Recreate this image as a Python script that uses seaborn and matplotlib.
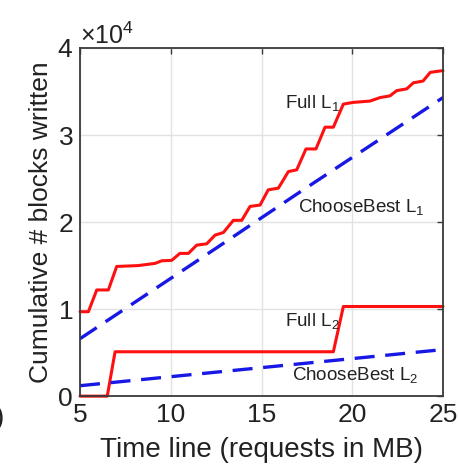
"""
Cumulative blocks written over time: Full vs ChooseBest for L1 and L2
"""

import numpy as np
import matplotlib.pyplot as plt
import matplotlib.ticker as mticker
import seaborn as sns

# Full L1 (staircase), x in MB, y in blocks
full_l1_t = [5, 5.46, 5.92, 6.56, 7.02, 8.2, 9.13, 9.5, 10.05, 10.5, 10.97, 11.43,
             11.98, 12.44, 12.9, 13.45, 13.91, 14.37, 14.92, 15.37, 15.93, 16.48,
             16.94, 17.45, 18.0, 18.5, 18.96, 19.51, 20.06, 20.98, 21.53, 22.08,
             22.45, 23.0, 23.37, 23.9, 24.3, 25]
full_l1_y = [9700, 9700, 12200, 12200, 14900, 15000, 15250, 15550, 15600, 16400,
             16400, 17350, 17500, 18500, 18800, 20200, 20200, 21800, 21950, 23700,
             23900, 25800, 26000, 28400, 28400, 30900, 30900, 33550, 33750, 33900,
             34300, 34500, 35100, 35300, 36000, 36200, 37200, 37400]

# ChooseBest L1 (dashed, nearly straight)
best_l1_t = [5, 12.07, 17.08, 25]
best_l1_y = [6600, 16400, 23400, 34300]

# Full L2
full_l2_t = [5, 6.5, 6.93, 18.96, 19.51, 25]
full_l2_y = [0, 0, 5100, 5100, 10300, 10300]

# ChooseBest L2
best_l2_t = [5, 25]
best_l2_y = [1200, 5350]

sns.set_theme(style="whitegrid")
plt.rcParams["font.family"] = ["Liberation Sans", "DejaVu Sans"]
plt.rcParams["mathtext.fontset"] = "custom"
plt.rcParams["mathtext.rm"] = "Liberation Sans"
plt.rcParams["mathtext.default"] = "regular"

fig = plt.figure(figsize=(4.6, 4.75), dpi=100)
ax = fig.add_axes([0.174, 0.166, 0.789, 0.733])

red = "#ff1010"
blue = "#1818e6"
dash = (0, (6.0, 3.2))

sns.lineplot(x=full_l1_t, y=full_l1_y, color=red, lw=2.2, ax=ax, clip_on=False)
sns.lineplot(x=best_l1_t, y=best_l1_y, color=blue, lw=2.4, linestyle=dash, ax=ax)
sns.lineplot(x=full_l2_t, y=full_l2_y, color=red, lw=2.2, ax=ax, clip_on=False)
sns.lineplot(x=best_l2_t, y=best_l2_y, color=blue, lw=2.4, linestyle=dash, ax=ax)

ax.set_xlim(5, 25)
ax.set_ylim(0, 40000)
ax.set_xticks([5, 10, 15, 20, 25])
ax.set_yticks([0, 10000, 20000, 30000, 40000])

fmt = mticker.ScalarFormatter(useMathText=True)
fmt.set_powerlimits((0, 0))
ax.yaxis.set_major_formatter(fmt)
ax.yaxis.get_offset_text().set_fontsize(18)
ax.yaxis.get_offset_text().set_color("#333333")

ax.grid(True, color="#e2e2e2", lw=1.0)
for s in ax.spines.values():
    s.set_visible(True)
    s.set_color("#3a3a3a")
    s.set_linewidth(1.3)

ax.tick_params(direction="in", length=4, width=1, colors="#3a3a3a",
               top=True, right=True, labelsize=19, labelcolor="#222222", pad=5)

ax.set_xlabel("Time line (requests in MB)", fontsize=20, color="#222222", labelpad=7)
ax.set_ylabel("Cumulative # blocks written", fontsize=19, color="#222222", labelpad=3)

# labels on the curves
lab = dict(fontsize=13.5, color="#222222")
ax.text(16.3, 33100, "Full L$_1$", **lab)
ax.text(17.0, 21200, "ChooseBest L$_1$", **lab)
ax.text(16.3, 8100, "Full L$_2$", **lab)
ax.text(16.7, 1800, "ChooseBest L$_2$", **lab)

# cut-off subfigure label at the left edge, as in the source
fig.text(-0.012, 0.105, ")", fontsize=20, color="#222222")

fig.savefig("out.png", dpi=100)
